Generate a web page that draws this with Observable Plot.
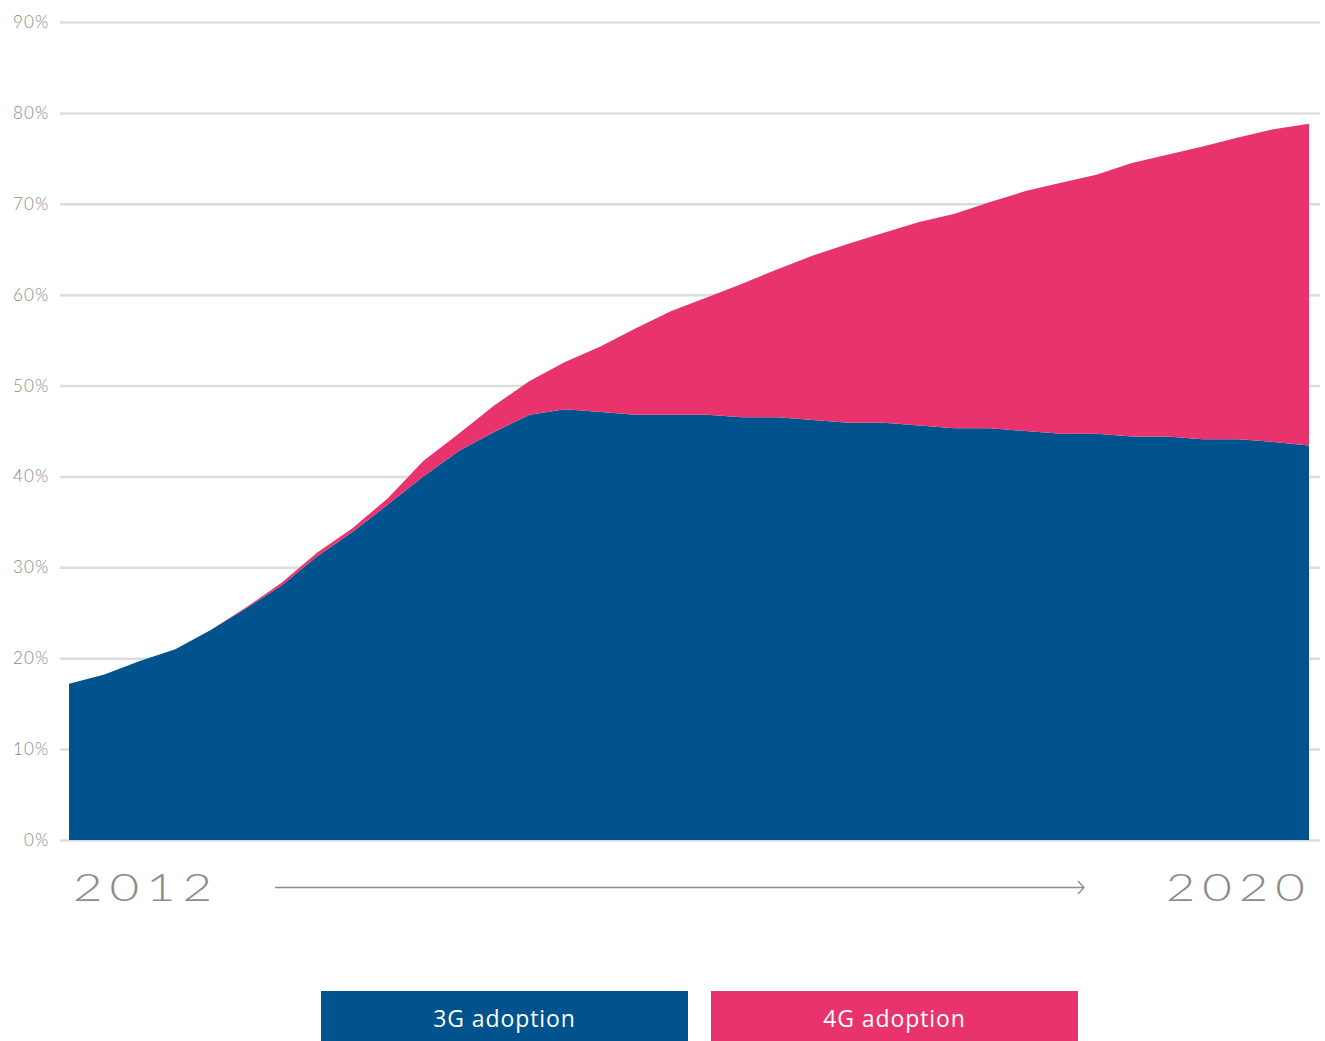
<!DOCTYPE html>
<html>
<head>
<meta charset="utf-8">
<script src="https://cdn.jsdelivr.net/npm/d3@7"></script>
<script src="https://cdn.jsdelivr.net/npm/@observablehq/plot@0.6"></script>
<style>
  html, body { margin: 0; padding: 0; background: #fff; }
  #wrap { position: relative; width: 1325px; height: 1041px; overflow: hidden; font-family: "Lato", "Open Sans", sans-serif; }
  #chart { position: absolute; left: 0; top: 0; }
  #chart svg text { letter-spacing: 1.2px; }
  .year { position: absolute; top: 862px; font-size: 37px; font-weight: 300; color: #8c8c8c; letter-spacing: 5px; line-height: 50px; transform: scaleX(1.38); }
  #y0 { left: 73px; transform-origin: left center; }
  #y1 { right: 13px; transform-origin: right center; }
  #arrow { position: absolute; left: 274px; top: 878px; }
  #legend { position: absolute; top: 991px; left: 321px; display: flex; gap: 23px; }
  .leg { width: 367px; height: 50px; color: #fff; font-family: "Open Sans", "Lato", sans-serif; font-size: 23px; letter-spacing: 0.9px; display: flex; align-items: center; justify-content: center; padding-top: 4px; box-sizing: border-box; }
</style>
</head>
<body>
<div id="wrap">
  <div id="chart"></div>
  <div class="year" id="y0"></div>
  <svg id="arrow" width="816" height="20"></svg>
  <div class="year" id="y1"></div>
  <div id="legend"></div>
</div>
<script>
// Quarterly series, 2012 Q1 – 2020 Q4 (share of connections, %)
const quarters = [];
for (let y = 2012; y <= 2020; y++) for (let q = 1; q <= 4; q++) quarters.push(`${y} Q${q}`);

const threeG = [17.2, 18.2, 19.7, 21.0, 23.1, 25.5, 28.0, 31.2, 33.9, 36.9, 40.0, 42.8,
                44.9, 46.8, 47.4, 47.1, 46.8, 46.8, 46.8, 46.5, 46.5, 46.2, 45.9, 45.9,
                45.6, 45.3, 45.3, 45.0, 44.7, 44.7, 44.4, 44.4, 44.1, 44.1, 43.8, 43.4];
const fourG  = [0, 0, 0, 0, 0, 0.1, 0.3, 0.4, 0.4, 0.7, 1.7, 1.9,
                2.9, 3.7, 5.2, 7.2, 9.5, 11.4, 12.9, 14.7, 16.3, 18.1, 19.7, 20.9,
                22.4, 23.6, 24.9, 26.4, 27.6, 28.5, 30.1, 31.0, 32.2, 33.2, 34.4, 35.4];

const seriesNames = ["3G adoption", "4G adoption"];
const seriesColors = ["#00538c", "#e8336d"];
const yTicks = [0, 10, 20, 30, 40, 50, 60, 70, 80, 90];
const startLabel = "2012";
const endLabel = "2020";

const data = [];
quarters.forEach((q, i) => {
  data.push({i, quarter: q, series: seriesNames[0], value: threeG[i]});
  data.push({i, quarter: q, series: seriesNames[1], value: fourG[i]});
});

const chart = Plot.plot({
  width: 1325,
  height: 852,
  marginTop: 22,
  marginBottom: 12,
  marginLeft: 60,
  marginRight: 5,
  style: {fontFamily: "Lato, 'Open Sans', sans-serif", background: "#fff"},
  x: {domain: [0, quarters.length - 1], insetLeft: 9, insetRight: 11, axis: null},
  y: {domain: [0, 90], ticks: yTicks, tickFormat: d => d + "%", tickSize: 0, tickPadding: 12, label: null},
  color: {domain: seriesNames, range: seriesColors},
  marks: [
    Plot.ruleY(yTicks, {stroke: "#dcdcdc", strokeWidth: 2.5}),
    Plot.areaY(data, {x: "i", y: "value", fill: "series", order: seriesNames}),
    Plot.axisY({ticks: yTicks, tickFormat: d => d + "%", tickSize: 0, tickPadding: 11, fontSize: 17, fill: "#8a8a8a", fontWeight: 300, label: null})
  ]
});
document.getElementById("chart").appendChild(chart);

document.getElementById("y0").textContent = startLabel;
document.getElementById("y1").textContent = endLabel;

// arrow decoration
const a = d3.select("#arrow");
a.append("line").attr("x1", 1).attr("x2", 810).attr("y1", 9.5).attr("y2", 9.5).attr("stroke", "#8c8c8c").attr("stroke-width", 1.3);
a.append("path").attr("d", "M804,3 L810,9.5 L804,16").attr("fill", "none").attr("stroke", "#8c8c8c").attr("stroke-width", 1.3);

const leg = d3.select("#legend");
seriesNames.forEach((n, k) => {
  leg.append("div").attr("class", "leg").style("background", seriesColors[k]).text(n);
});
</script>
</body>
</html>
